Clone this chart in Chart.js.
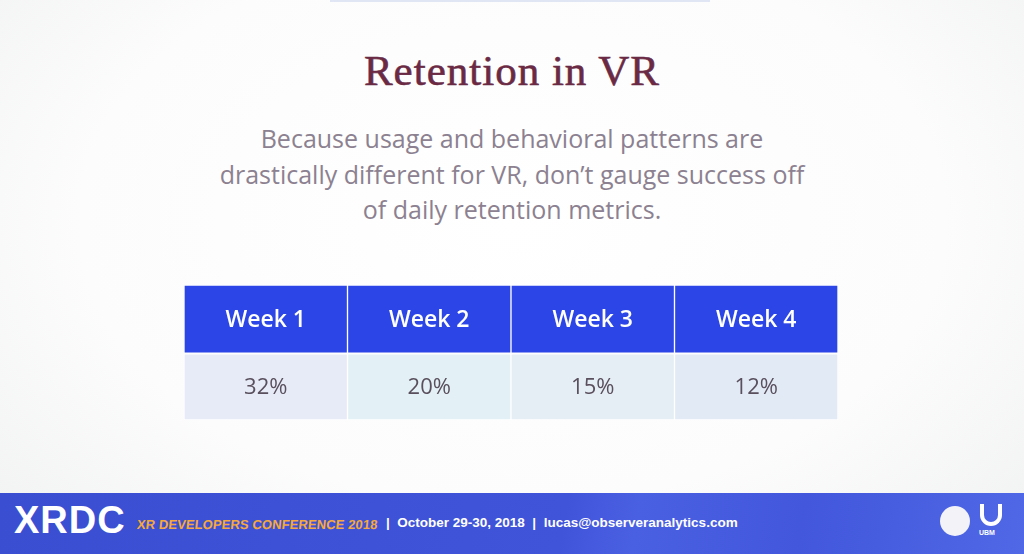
<!DOCTYPE html>
<html><head><meta charset="utf-8">
<script src="https://cdn.jsdelivr.net/npm/chart.js@4.4.0/dist/chart.umd.min.js"></script>
<style>
html,body{margin:0;padding:0;}
body{width:1024px;height:554px;position:relative;overflow:hidden;
 background:radial-gradient(ellipse at 50% 40%, #ffffff 0%, #fcfcfc 60%, #f0f1f1 100%);font-family:"Open Sans",sans-serif;}
#topline{position:absolute;left:330px;top:0;width:380px;height:2px;background:#c3cfe9;opacity:.5;}
#title{position:absolute;left:0;width:1024px;top:46px;text-align:center;font-family:"Liberation Serif",serif;font-size:43px;color:#6b2a44;letter-spacing:1px;-webkit-text-stroke:0.6px #6b2a44;}
#sub{position:absolute;left:0;width:1024px;top:121px;text-align:center;font-family:"Open Sans",sans-serif;font-size:25px;line-height:35.5px;color:#8c8190;}
#wrap{position:absolute;left:184px;top:285px;width:654px;height:135px;}
#footer{position:absolute;left:0;top:493px;width:1024px;height:61px;
 background:linear-gradient(100deg,#3a4ed2 0%,#4054da 55%,#4a60e2 62%,#4257dc 78%,#5068e6 100%);}
#xrdc{position:absolute;left:14px;top:6px;font-family:"Liberation Sans",sans-serif;font-weight:bold;font-size:38px;color:#fff;letter-spacing:1px;}
#conf{position:absolute;left:137px;top:24px;font-family:"Liberation Sans",sans-serif;font-weight:bold;font-size:13px;color:#f6a93a;letter-spacing:0.1px;transform:skewX(-6deg);transform-origin:left;}
#info{position:absolute;left:386px;top:22px;font-family:"Liberation Sans",sans-serif;font-weight:bold;font-size:13.5px;color:#fff;}
.ic1{position:absolute;left:940px;top:13px;width:30px;height:30px;border-radius:50%;background:#f2f2f8;}
.ic2{position:absolute;left:980px;top:11px;width:22px;height:22px;border-radius:0 0 11px 11px;border:4px solid #fff;border-top:none;box-sizing:border-box;}
.ubm{position:absolute;left:979px;top:36px;font-size:7px;color:#fff;font-family:"Liberation Sans",sans-serif;font-weight:bold;}
</style></head>
<body>
<div id="topline"></div>
<div id="title">Retention in VR</div>
<div id="sub">Because usage and behavioral patterns are<br>drastically different for VR, don’t gauge success off<br>of daily retention metrics.</div>
<div id="wrap"><canvas id="c"></canvas></div>
<div id="footer">
 <div id="xrdc">XRDC</div>
 <div id="conf">XR DEVELOPERS CONFERENCE 2018</div>
 <div id="info">| &nbsp;October 29-30, 2018 &nbsp;| &nbsp;lucas@observeranalytics.com</div>
 <div class="ic1"></div><div class="ic2"></div><div class="ubm">UBM</div>
</div>
<script>
const weeks = ["Week 1", "Week 2", "Week 3", "Week 4"];
const retention = [32, 20, 15, 12];
const headerColor = "#2b45e6";
const valueColors = ["#e7ebf8", "#e3f1f6", "#e5edf5", "#e2eaf6"];

const cellLabels = {
  id: "cellLabels",
  afterDatasetsDraw(chart) {
    const ctx = chart.ctx;
    ctx.save();
    ctx.textAlign = "center";
    ctx.textBaseline = "middle";
    const hdr = chart.getDatasetMeta(0).data;
    const val = chart.getDatasetMeta(1).data;
    hdr.forEach((b, i) => {
      ctx.fillStyle = "#ffffff";
      ctx.font = "600 23px 'Open Sans', sans-serif";
      ctx.fillText(weeks[i], b.x, (b.y + b.base) / 2 + 1);
    });
    val.forEach((b, i) => {
      ctx.fillStyle = "#5a4f5c";
      ctx.font = "22px 'Open Sans', sans-serif";
      ctx.fillText(retention[i] + "%", b.x, (b.y + b.base) / 2 + 1);
    });
    ctx.restore();
  }
};

new Chart(document.getElementById("c"), {
  type: "bar",
  data: {
    labels: weeks,
    datasets: [
      { label: "Week", data: weeks.map(() => [0.99, 2]), backgroundColor: headerColor,
        borderColor: "#ffffff", borderWidth: 1, borderSkipped: false, grouped: false,
        barPercentage: 1, categoryPercentage: 1 },
      { label: "Retention", data: retention.map(() => [0, 0.98]), backgroundColor: valueColors,
        borderColor: "#ffffff", borderWidth: 1, borderSkipped: false, grouped: false,
        barPercentage: 1, categoryPercentage: 1 }
    ]
  },
  options: {
    responsive: true, maintainAspectRatio: false, animation: false,
    layout: { padding: 0 },
    plugins: { legend: { display: false }, tooltip: { enabled: false }, title: { display: false } },
    scales: {
      x: { display: false },
      y: { display: false, min: 0, max: 2 }
    }
  },
  plugins: [cellLabels]
});
</script>
</body></html>
